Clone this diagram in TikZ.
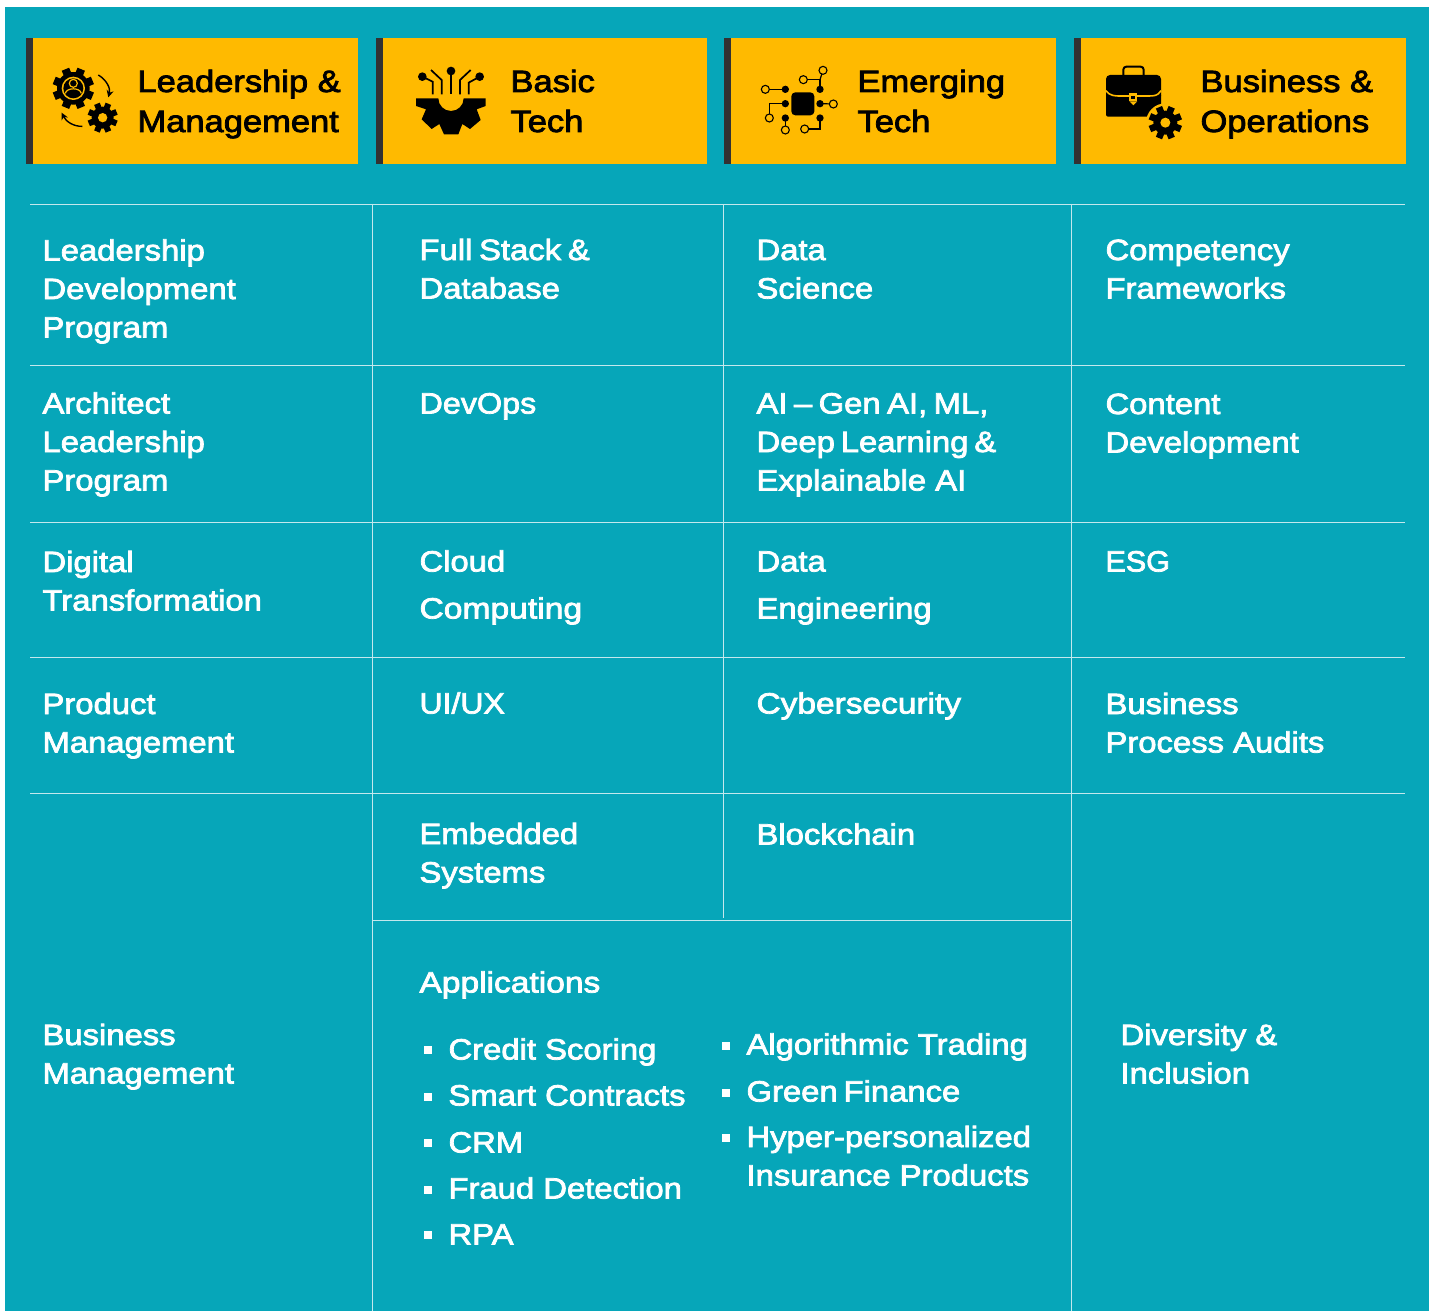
\documentclass[tikz,border=0pt]{standalone}
\usepackage{fontspec}
\setmainfont[FakeStretch=1.12,FakeBold=2.6]{Liberation Sans}
\usetikzlibrary{arrows.meta}
\definecolor{teal}{HTML}{06A6B9}
\definecolor{amber}{HTML}{FFBA00}
\definecolor{barcol}{HTML}{333132}
\definecolor{gridcol}{HTML}{C4E8ED}
\newcommand{\gearicon}[6]{% x y outer body hole teethwidth
  \foreach \a in {0,45,90,135}{
    \fill[black,shift={(#1,#2)},rotate=\a+22.5] (-#6,-#3) rectangle (#6,#3);
  }
  \fill[black] (#1,#2) circle (#4);
  \fill[amber] (#1,#2) circle (#5);
}
\tikzset{
  x=0.5pt,y=-0.5pt,
  cell/.style={anchor=base west,inner sep=0pt,outer sep=0pt,align=left,text=white,yshift=0.25pt,font=\fontsize{14.65}{19.25}\selectfont},
  head/.style={anchor=base west,inner sep=0pt,outer sep=0pt,align=left,text=black,font=\fontsize{15.4}{20}\selectfont},
  wd/.style={xscale=#1,transform shape},
  rule/.style={draw=gridcol,line width=0.5pt},
  wire/.style={draw=black,line width=0.85pt},
  thinwire/.style={draw=black,line width=0.6pt},
  opendot/.style={draw=black,fill=amber,line width=0.55pt},
  bulletmark/.style={fill=white},
  cyc/.style={draw=black,line width=0.7pt,-{Stealth[length=3.5pt,width=3.5pt]}}
}
\begin{document}
\begin{tikzpicture}
\useasboundingbox (0,0) rectangle (1436,1311);
\fill[white] (0,0) rectangle (1436,1311);
\fill[teal] (5,7) rectangle (1429,1311);
% header boxes
\foreach \xa/\xb/\xc in {26/33/358,376/383/707,724/731/1056,1074/1081/1406}{
  \fill[barcol] (\xa,38) rectangle (\xb,164);
  \fill[amber] (\xb,38) rectangle (\xc,164);
}
% grid
\foreach \yy in {204.5,365,522,657,793}{ \draw[rule] (30,\yy) -- (1405,\yy); }
\draw[rule] (372,920) -- (1071,920);
\draw[rule] (372,204) -- (372,1311);
\draw[rule] (723,204) -- (723,918);
\draw[rule] (1071,204) -- (1071,1311);
% header text
\node[head] (h1) at (137.5,132) {Leadership \&\\Management};
\node[head] (h2) at (510.5,132) {Basic\\Tech};
\node[head] (h3) at (857.5,132) {Emerging\\Tech};
\node[head] (h4) at (1200.5,132) {Business \&\\Operations};
% column 1
\node[cell] (a1) at (42.5,338) {Leadership\\Development\\Program};
\node[cell] (a2) at (42.5,491) {Architect\\Leadership\\Program};
\node[cell] (a3) at (42.5,611) {Digital\\Transformation};
\node[cell] (a4) at (42.5,753) {Product\\Management};
\node[cell] (a5) at (42.5,1084) {Business\\Management};
% column 2
\node[cell] (b1) at (419.5,299) {\spaceskip=.23em\relax Full Stack \&\\Database};
\node[cell,wd=0.985] (b2) at (419.5,414) {DevOps};
\node[cell] (b3a) at (419.5,572) {Cloud};
\node[cell,wd=1.025] (b3b) at (419.5,619) {Computing};
\node[cell,wd=0.975] (b4) at (419.5,714) {UI/UX};
\node[cell] (b5) at (419.5,883) {Embedded\\Systems};
\node[cell,wd=1.022] (b6) at (419.5,993) {Applications};
% column 3
\node[cell] (c1) at (756.5,299) {Data\\Science};
\node[cell] (c2) at (756.5,491) {\spaceskip=.22em\relax AI – Gen AI, ML,\\\spaceskip=.2em\relax Deep Learning \&\\Explainable AI};
\node[cell] (c3a) at (756.5,572) {Data};
\node[cell] (c3b) at (756.5,619) {Engineering};
\node[cell,wd=1.02] (c4) at (756.5,714) {Cybersecurity};
\node[cell] (c5) at (756.5,845) {Blockchain};
% column 4
\node[cell] (d1) at (1105.5,299) {Competency\\Frameworks};
\node[cell] (d2) at (1105.5,453) {Content\\Development};
\node[cell,wd=0.93] (d3) at (1105.5,572) {ESG};
\node[cell] (d4) at (1105.5,753) {Business\\Process Audits};
\node[cell] (d5) at (1120.5,1084) {Diversity \&\\Inclusion};
% lists
\foreach \nm/\yb/\yc/\tx in {l1/1060/1050/Credit Scoring,l2/1106/1097/Smart Contracts,l3/1153/1143/CRM,l4/1199/1190/Fraud Detection,l5/1245/1235/RPA}{
  \fill[bulletmark] (424,\yc-4) rectangle (432,\yc+4);
  \node[cell] (\nm) at (448.5,\yb) {\tx};
}
\foreach \nm/\yb/\yc/\tx in {r1/1055/1046/Algorithmic Trading,r2/1102/1093/{\spaceskip=.2em\relax Green Finance}}{
  \fill[bulletmark] (722,\yc-4) rectangle (730,\yc+4);
  \node[cell] (\nm) at (746.5,\yb) {\tx};
}
\fill[bulletmark] (722,1134) rectangle (730,1142);
\node[cell] (r3) at (746.5,1186) {Hyper-personalized\\Insurance Products};
% icon 1
\begin{scope}[scale=1/3]
  \gearicon{220}{265}{62}{49}{35}{12}
  \fill[black] (220,265) circle (30);
  \draw[amber,line width=0.6pt] (220,250) circle (12);
  \draw[amber,line width=0.6pt] (196,280) .. controls (200,262) and (240,262) .. (244,280);
  \gearicon{308}{353}{45}{33}{14}{9}
  \draw[cyc] (295,225) .. controls (320,240) and (332,265) .. (325,292);
  \draw[cyc] (247,379) .. controls (222,380) and (198,365) .. (185,338);
\end{scope}
% icon 2
\begin{scope}[shift={(370,30)},scale=1/3]
  \fill[black] (138,205) -- (205,205) arc[start angle=180,end angle=0,radius=38] -- (347,205) -- (347,228) -- (320,238) -- (332,270) -- (300,297) -- (277,282) -- (265,313) -- (222,313) -- (208,282) -- (185,297) -- (155,268) -- (168,238) -- (138,228) -- cycle;
  \fill[black] (157,140) circle (13);
  \fill[black] (243,123) circle (13);
  \fill[black] (329,140) circle (13);
  \draw[wire] (157,140) -- (188,155) -- (188,193);
  \draw[wire] (183,120) -- (215,150) -- (215,193);
  \draw[wire] (243,123) -- (243,193);
  \draw[wire] (302,120) -- (270,150) -- (270,193);
  \draw[wire] (329,140) -- (296,158) -- (296,193);
\end{scope}
% icon 3
\begin{scope}[shift={(720,30)},scale=1/3]
  \draw[thinwire] (136,178) -- (196,178);
  \draw[thinwire] (196,221) -- (148,221) -- (148,264);
  \draw[thinwire] (196,264) -- (196,300);
  \draw[thinwire] (300,264) -- (300,297) -- (254,297);
  \draw[thinwire] (300,221) -- (340,222);
  \draw[thinwire] (300,178) -- (300,149) -- (250,149);
  \draw[thinwire] (300,149) -- (309,121);
  \fill[black,rounded corners=2pt] (214,187) rectangle (283,256);
  \foreach \dx/\dy in {196/178,196/221,196/264,300/178,300/221,300/264}{
    \fill[black] (\dx,\dy) circle (11);
  }
  \foreach \dx/\dy in {136/178,148/264,196/300,254/297,340/222,250/149,309/121}{
    \draw[opendot] (\dx,\dy) circle (12);
  }
\end{scope}
% icon 4
\begin{scope}[shift={(1066,0)},scale=1/3]
  \draw[black,line width=1pt,rounded corners=1.5pt] (172,225) -- (172,200) -- (233,200) -- (233,225);
  \fill[black,rounded corners=2pt] (120,225) -- (285,225) -- (285,300) -- (120,300) -- cycle;
  \fill[black,rounded corners=1pt] (120,280) rectangle (285,350);
  \draw[amber,line width=0.8pt] (120,272) .. controls (130,288) and (150,288) .. (160,288) -- (245,288) .. controls (265,288) and (275,288) .. (285,272);
  \fill[amber] (190,278) rectangle (214,304);
  \fill[amber] (190,304) -- (214,304) -- (202,316) -- cycle;
  \fill[black] (196,287) rectangle (208,298);
  \fill[amber] (298,368) circle (58);
  \gearicon{298}{368}{50}{36}{15}{10}
\end{scope}
\end{tikzpicture}
\end{document}
